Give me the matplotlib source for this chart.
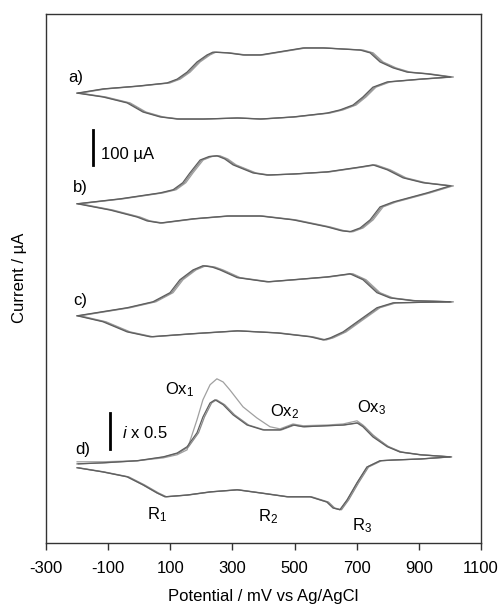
import matplotlib
matplotlib.use('Agg')
import matplotlib.pyplot as plt

plt.rcParams['font.family'] = ['Liberation Sans', 'DejaVu Sans']
plt.rcParams['mathtext.fontset'] = 'custom'
plt.rcParams['mathtext.rm'] = 'Liberation Sans'
plt.rcParams['mathtext.it'] = 'Liberation Sans:italic'
plt.rcParams['axes.unicode_minus'] = False

# potential (mV) / current (uA, relative to the 1000 mV end point)
# a)
a_up_mv = [-200, -117, -7, 89, 122, 154, 186, 218, 237, 283, 334, 389, 527, 592, 711, 743, 775, 817, 862, 926, 1000]
a_up_ua = [-46, -34, -26, -17, -6, 14, 43, 63, 71, 69, 63, 63, 83, 83, 77, 69, 43, 26, 14, 9, 0]
a_dn_mv = [1000, 904, 798, 752, 720, 688, 646, 604, 495, 389, 315, 205, 122, 67, 12, -39, -117, -200]
a_dn_ua = [0, -6, -14, -29, -57, -80, -94, -103, -114, -120, -117, -120, -120, -114, -100, -74, -57, -46]
# b)
b_up_mv = [-200, -62, 67, 109, 140, 163, 196, 225, 250, 275, 302, 366, 411, 495, 604, 711, 752, 798, 849, 913, 1000]
b_up_ua = [-51, -37, -20, -11, 9, 37, 74, 84, 86, 77, 60, 37, 31, 34, 40, 54, 60, 46, 23, 9, 0]
b_dn_mv = [1000, 926, 817, 775, 743, 711, 678, 650, 604, 495, 389, 283, 173, 67, 25, -7, -94, -200]
b_dn_ua = [0, -20, -46, -60, -97, -120, -131, -128, -117, -97, -86, -86, -94, -106, -100, -89, -69, -51]
# c)
c_up_mv = [-200, -39, 44, 99, 131, 173, 205, 235, 260, 315, 411, 495, 604, 678, 720, 765, 807, 881, 1000]
c_up_ua = [-40, -17, 0, 26, 63, 91, 103, 99, 91, 69, 57, 63, 71, 80, 63, 26, 11, 3, 0]
c_dn_mv = [1000, 817, 765, 711, 656, 615, 592, 550, 443, 315, 173, 35, -39, -117, -200]
c_dn_ua = [0, -3, -17, -51, -86, -103, -109, -100, -89, -83, -91, -100, -86, -57, -40]
# d) (i x 0.5), first cycle has the taller Ox1 peak
d_up_mv = [-200, -117, -7, 77, 122, 154, 186, 205, 228, 244, 270, 302, 347, 398, 453, 495, 527, 604, 656, 701, 720, 752, 798, 839, 904, 1000]
d_up_ua = [-20, -17, -11, 0, 11, 29, 69, 114, 154, 163, 149, 120, 91, 77, 77, 91, 86, 89, 91, 97, 86, 57, 29, 14, 6, 0]
d1_up_mv = [-200, -117, -7, 77, 122, 154, 186, 205, 228, 250, 270, 292, 334, 379, 421, 453, 495, 527, 604, 656, 701, 720, 752, 798, 839, 904, 1000]
d1_up_ua = [-14, -14, -11, -3, 6, 20, 106, 163, 206, 223, 214, 191, 143, 111, 86, 80, 94, 89, 91, 94, 103, 91, 63, 31, 14, 6, 0]
d_dn_mv = [1000, 904, 817, 775, 733, 701, 669, 646, 624, 604, 550, 476, 389, 315, 228, 154, 83, 57, 12, -39, -117, -200]
d_dn_ua = [0, -6, -9, -11, -29, -74, -123, -151, -146, -129, -114, -114, -103, -94, -100, -109, -114, -103, -80, -57, -43, -31]

offsets = [1331, 1020, 689, 246]
cycle_shift = [10, 5, 0]
cycle_color = ['#a0a0a0', '#8a8a8a', '#5e5e5e']

fig = plt.figure(figsize=(5.04, 6.08), dpi=100)
ax = fig.add_axes([46 / 504, 1 - 543 / 608, 435 / 504, 529 / 608])

curves = [
    (a_up_mv, a_up_ua, a_dn_mv, a_dn_ua),
    (b_up_mv, b_up_ua, b_dn_mv, b_dn_ua),
    (c_up_mv, c_up_ua, c_dn_mv, c_dn_ua),
    (d_up_mv, d_up_ua, d_dn_mv, d_dn_ua),
]
for k, (um, ui, dm, di) in enumerate(curves):
    off = offsets[k]
    for j in range(3):
        s = cycle_shift[j]
        col = cycle_color[j]
        um2, ui2 = um, ui
        if k == 3 and j == 0:
            um2, ui2, s = d1_up_mv, d1_up_ua, 0
        ax.plot([m + s for m in um2], [i + off for i in ui2], color=col, lw=0.9)
        ax.plot([m + s for m in dm], [i + off for i in di], color=col, lw=0.9)

ax.set_xlim(-300, 1100)
ax.set_ylim(0, 1511)
ax.set_xticks(range(-300, 1101, 200))
ax.set_yticks([])
ax.tick_params(axis='x', direction='out', length=5, width=1, labelsize=12, pad=8, color='#333333')
for sp in ax.spines.values():
    sp.set_color('#333333')
    sp.set_linewidth(1)

fs = 12
ax.text(-205, 1331, 'a)', fontsize=fs, ha='center', va='center')
ax.text(-189, 1014, 'b)', fontsize=fs, ha='center', va='center')
ax.text(-189, 694, 'c)', fontsize=fs, ha='center', va='center')
ax.text(-183, 266, 'd)', fontsize=fs, ha='center', va='center')

ax.plot([-149, -149], [1080, 1180], color='black', lw=2)
ax.text(-123, 1111, '100 µA', fontsize=fs, ha='left', va='center')
ax.plot([-94, -94], [269, 371], color='black', lw=2)
ax.text(-55, 314, r'$i$ x 0.5', fontsize=fs, ha='left', va='center')

ax.text(131, 437, r'Ox$_1$', fontsize=fs, ha='center', va='center')
ax.text(469, 374, r'Ox$_2$', fontsize=fs, ha='center', va='center')
ax.text(749, 386, r'Ox$_3$', fontsize=fs, ha='center', va='center')
ax.text(57, 80, r'R$_1$', fontsize=fs, ha='center', va='center')
ax.text(415, 74, r'R$_2$', fontsize=fs, ha='center', va='center')
ax.text(717, 49, r'R$_3$', fontsize=fs, ha='center', va='center')

fig.text(263 / 504, 1 - 596 / 608, 'Potential / mV vs Ag/AgCl', fontsize=fs, ha='center', va='center')
fig.text(20 / 504, 1 - 278 / 608, 'Current / µA', fontsize=fs, ha='center', va='center', rotation=90)

fig.savefig('out.png', dpi=100)
